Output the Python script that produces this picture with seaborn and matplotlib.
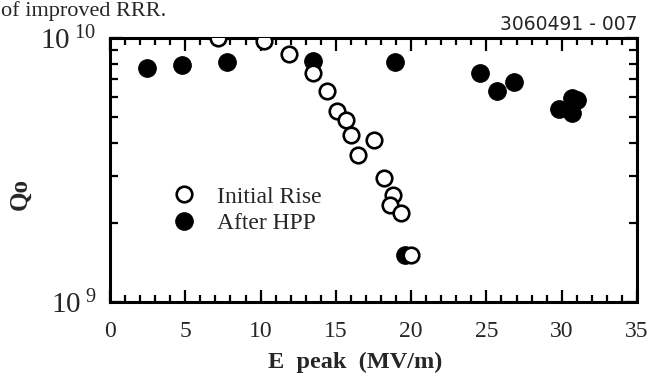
import matplotlib
matplotlib.use("Agg")
import matplotlib.pyplot as plt
import matplotlib.ticker as mticker
from matplotlib.lines import Line2D
import seaborn as sns
import pandas as pd

# ---- data ----
initial_x = [7.2, 10.2, 11.9, 13.5, 14.4, 15.1, 15.7, 16.0, 17.5, 16.5, 18.2, 18.8, 18.6, 19.3, 20.0]
initial_q = [1.0e10, 9.7e9, 8.7e9, 7.4e9, 6.3e9, 5.3e9, 4.9e9, 4.3e9, 4.1e9, 3.6e9, 2.95e9, 2.54e9, 2.33e9, 2.17e9, 1.51e9]

hpp_x = [2.45, 4.8, 7.8, 13.5, 18.9, 24.6, 25.7, 26.8, 29.8, 30.7, 31.0, 30.7, 19.6]
hpp_q = [7.7e9, 7.9e9, 8.1e9, 8.2e9, 8.1e9, 7.4e9, 6.3e9, 6.8e9, 5.4e9, 5.9e9, 5.8e9, 5.2e9, 1.51e9]

series_labels = ["Initial Rise", "After HPP"]
x_ticks = [0, 5, 10, 15, 20, 25, 30, 35]
y_ticks = [1e9, 1e10]
y_ticklabels = ["$10^{\\ 9}$", "$10^{\\ 10}$"]

sns.set_theme(style="white")
plt.rcParams["font.family"] = ["Liberation Serif", "DejaVu Serif"]
plt.rcParams["mathtext.fontset"] = "custom"
plt.rcParams["mathtext.rm"] = "Liberation Serif"
plt.rcParams["mathtext.it"] = "Liberation Serif:italic"
plt.rcParams["mathtext.bf"] = "Liberation Serif:bold"

W, H = 652, 373
fig = plt.figure(figsize=(W / 100, H / 100), dpi=100)
ax = fig.add_axes([110 / W, 1 - 302 / H, 527 / W, 264 / H])

df_init = pd.DataFrame({"E": initial_x, "Q": initial_q})
df_hpp = pd.DataFrame({"E": hpp_x, "Q": hpp_q})

sns.scatterplot(data=df_hpp, x="E", y="Q", ax=ax, s=160, color="black",
                edgecolor="black", linewidth=0.8, marker="o", zorder=3)
sns.scatterplot(data=df_init, x="E", y="Q", ax=ax, s=125, color="white",
                edgecolor="black", linewidth=1.9, marker="o", zorder=4)

ax.set_yscale("log")
ax.set_xlim(0, 35)
ax.set_ylim(1e9, 1e10)

ax.set_xticks(x_ticks)
ax.set_xticklabels([str(t) for t in x_ticks], fontsize=17)
ax.xaxis.set_minor_locator(mticker.MultipleLocator(1))
ax.set_yticks(y_ticks)
ax.set_yticklabels(y_ticklabels, fontsize=21)
ax.yaxis.set_minor_locator(mticker.LogLocator(base=10, subs=range(2, 10)))
ax.yaxis.set_minor_formatter(mticker.NullFormatter())

ax.tick_params(axis="both", which="both", direction="in", top=True, right=True,
               bottom=True, left=True, color="black", width=1.6)
ax.tick_params(axis="x", which="major", length=9, pad=14)
ax.tick_params(axis="x", which="minor", length=5)
ax.tick_params(axis="y", which="major", length=9, pad=10)
ax.tick_params(axis="y", which="minor", length=6)

for sp in ax.spines.values():
    sp.set_visible(True)
    sp.set_color("black")
    sp.set_linewidth(2.2)

ax.set_xlabel("E  peak  (MV/m)", fontsize=17.5, fontweight="bold")
ax.xaxis.set_label_coords((355 - 110) / 527, (302 - 362) / 264)
ax.set_ylabel("Qo", fontsize=18, fontweight="bold")
ax.yaxis.set_label_coords((20 - 110) / 527, (302 - 194) / 264)
ax.xaxis.label.set_verticalalignment("center")
ax.yaxis.label.set_verticalalignment("center")

handles = [
    Line2D([], [], linestyle="none", marker="o", markersize=11.2,
           markerfacecolor="white", markeredgecolor="black", markeredgewidth=1.9),
    Line2D([], [], linestyle="none", marker="o", markersize=12.6,
           markerfacecolor="black", markeredgecolor="black", markeredgewidth=0.8),
]
ax.legend(handles, series_labels, loc="upper left",
          bbox_to_anchor=((172 - 110) / 527, (302 - 186) / 264),
          frameon=False, fontsize=17, handlelength=1.0, handletextpad=0.9,
          labelspacing=0.22, borderpad=0, borderaxespad=0)

fig.text(1 / W, 1 - 1.5 / H, "of improved RRR.", fontsize=16, ha="left", va="top")
fig.text(638 / W, 1 - 24 / H, "3060491 - 007", fontsize=13.5, ha="right", va="center",
         family=["DejaVu Sans"])

ax.set_facecolor("white")
fig.patch.set_facecolor("white")
fig.savefig("out.png", dpi=100)
